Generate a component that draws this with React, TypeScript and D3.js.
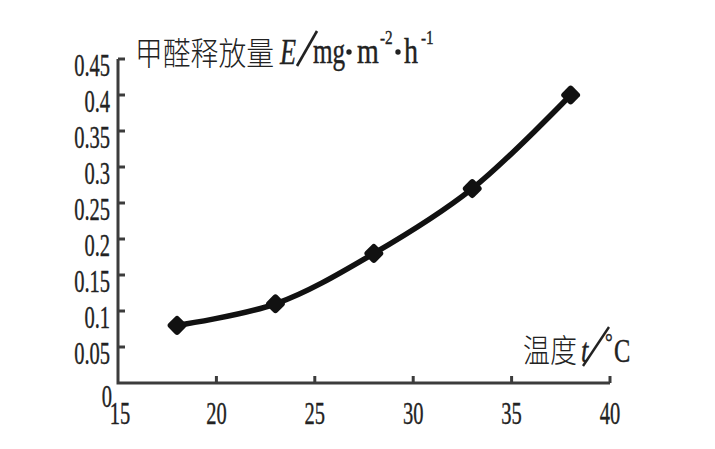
import React from "react";
import * as d3 from "d3";

const temperatures = [18, 23, 28, 33, 38];
const emissions = [0.08, 0.11, 0.18, 0.27, 0.4];
const xTicks = [20, 25, 30, 35, 40];
const yTicks = [0.05, 0.1, 0.15, 0.2, 0.25, 0.3, 0.35, 0.4, 0.45];
const yTickLabels = ["0.05", "0.1", "0.15", "0.2", "0.25", "0.3", "0.35", "0.4", "0.45"];
const yTitleCJK = "甲醛释放量";
const xTitleCJK = "温度";

const W = 715;
const H = 449;
const serif = "'Liberation Serif', 'DejaVu Serif', serif";
const cjk = "'Noto Sans CJK SC', sans-serif";
const axisColor = "#3c3c3c";
const ink = "#222";

export default function App() {
  const x = d3.scaleLinear().domain([15, 40]).range([118, 610]);
  const y = d3.scaleLinear().domain([0, 0.45]).range([383, 59]);
  const pts = temperatures.map((t, i) => [x(t), y(emissions[i])] as [number, number]);
  const line = d3.line().curve(d3.curveCatmullRom.alpha(0.5))(pts) || "";
  const sx = 0.64;
  const tickFont = 32;
  const textStroke = { stroke: ink, strokeWidth: 0.4 };

  return (
    <svg
      width={W}
      height={H}
      style={{ position: "absolute", left: 0, top: 0, background: "#fff" }}
    >
      <rect x={0} y={0} width={W} height={H} fill="#fff" />
      {/* axes */}
      <g stroke={axisColor} strokeWidth={3} fill="none">
        <path d={`M${x(15)},${y(0.45)} L${x(15)},${y(0)} L${x(40)},${y(0)}`} />
        {yTicks.map((v) => (
          <line key={"yt" + v} x1={x(15)} x2={x(15) + 7} y1={y(v)} y2={y(v)} />
        ))}
        {xTicks.map((v) => (
          <line key={"xt" + v} x1={x(v)} x2={x(v)} y1={y(0)} y2={y(0) - 7} />
        ))}
      </g>
      {/* y tick labels */}
      {yTicks.map((v, i) => (
        <text
          key={"yl" + v}
          transform={`translate(110,${y(v) + 17}) scale(${sx},1)`}
          textAnchor="end"
          fontFamily={serif}
          fontSize={tickFont}
          fill={ink}
          {...textStroke}
        >
          {yTickLabels[i]}
        </text>
      ))}
      <text
        transform={`translate(112,407) scale(${sx},1)`}
        textAnchor="end"
        fontFamily={serif}
        fontSize={tickFont}
        fill={ink}
        {...textStroke}
      >
        0
      </text>
      {/* x tick labels */}
      <text
        transform={`translate(120,424) scale(${sx},1)`}
        textAnchor="middle"
        fontFamily={serif}
        fontSize={tickFont}
        fill={ink}
        {...textStroke}
      >
        15
      </text>
      {xTicks.map((v) => (
        <text
          key={"xl" + v}
          transform={`translate(${x(v)},424) scale(${sx},1)`}
          textAnchor="middle"
          fontFamily={serif}
          fontSize={tickFont}
          fill={ink}
          {...textStroke}
        >
          {v}
        </text>
      ))}
      {/* y title */}
      <text
        x={135}
        y={65}
        fontFamily={cjk}
        fontSize={32}
        fontWeight={300}
        textLength={139}
        lengthAdjust="spacingAndGlyphs"
        fill={ink}
      >
        {yTitleCJK}
      </text>
      <text
        transform={`translate(280,64) scale(0.75,1)`}
        fontFamily={serif}
        fontStyle="italic"
        fontSize={35}
        fill={ink}
        {...textStroke}
      >
        E
      </text>
      <line x1={297} y1={66} x2={317} y2={31} stroke={ink} strokeWidth={2.6} />
      <text
        transform={`translate(313,63) scale(0.72,1)`}
        fontFamily={serif}
        fontSize={35}
        fill={ink}
        {...textStroke}
      >
        mg
      </text>
      <circle cx={349} cy={52} r={2.7} fill={ink} />
      <text
        transform={`translate(357,63) scale(0.8,1)`}
        fontFamily={serif}
        fontSize={35}
        fill={ink}
        {...textStroke}
      >
        m
      </text>
      <text
        transform={`translate(380,44) scale(0.8,1)`}
        fontFamily={serif}
        fontSize={19}
        fill={ink}
        {...textStroke}
      >
        -2
      </text>
      <circle cx={398} cy={52} r={2.7} fill={ink} />
      <text
        transform={`translate(404,63) scale(0.8,1)`}
        fontFamily={serif}
        fontSize={35}
        fill={ink}
        {...textStroke}
      >
        h
      </text>
      <text
        transform={`translate(421,44) scale(0.8,1)`}
        fontFamily={serif}
        fontSize={19}
        fill={ink}
        {...textStroke}
      >
        -1
      </text>
      {/* x title */}
      <text
        x={523}
        y={362}
        fontFamily={cjk}
        fontSize={32}
        fontWeight={300}
        textLength={54}
        lengthAdjust="spacingAndGlyphs"
        fill={ink}
      >
        {xTitleCJK}
      </text>
      <text
        transform={`translate(581,362) scale(0.8,1)`}
        fontFamily={serif}
        fontStyle="italic"
        fontSize={33}
        fill={ink}
        {...textStroke}
      >
        t
      </text>
      <line x1={583} y1={366} x2={609} y2={327} stroke={ink} strokeWidth={2.4} />
      <text
        transform={`translate(605,350) scale(0.8,1)`}
        fontFamily={serif}
        fontSize={24}
        fill={ink}
        {...textStroke}
      >
        °
      </text>
      <text
        transform={`translate(614,362) scale(0.72,1)`}
        fontFamily={serif}
        fontSize={34}
        fill={ink}
        {...textStroke}
      >
        C
      </text>
      {/* data line */}
      <path d={line} fill="none" stroke="#111" strokeWidth={5.5} strokeLinecap="round" />
      {pts.map(([px, py], i) => (
        <rect
          key={"m" + i}
          x={-7.5}
          y={-7.5}
          width={15}
          height={15}
          rx={3}
          transform={`translate(${px},${py}) rotate(45)`}
          fill="#111"
        />
      ))}
    </svg>
  );
}
